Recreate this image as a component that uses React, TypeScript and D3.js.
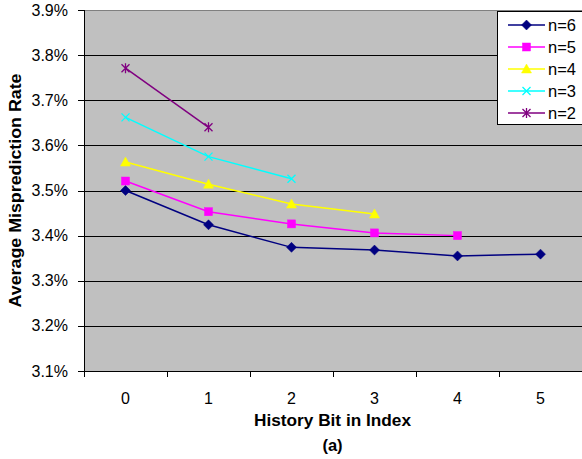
import React from "react";
import * as d3 from "d3";

const categories = [0, 1, 2, 3, 4, 5];
const yTicks = [3.1, 3.2, 3.3, 3.4, 3.5, 3.6, 3.7, 3.8, 3.9];
const n6 = [3.5, 3.424, 3.374, 3.368, 3.355, 3.359];
const n5 = [3.521, 3.453, 3.426, 3.406, 3.4];
const n4 = [3.563, 3.514, 3.47, 3.448];
const n3 = [3.662, 3.575, 3.526];
const n2 = [3.771, 3.64];
const seriesNames = ["n=6", "n=5", "n=4", "n=3", "n=2"];
const seriesValues = [n6, n5, n4, n3, n2];
const seriesColors = ["#000080", "#FF00FF", "#FFFF00", "#00FFFF", "#800080"];
const seriesMarkers = ["diamond", "square", "triangle", "x", "star"];

const W = 582, H = 459;
const L = 84, R = 582, T = 10, B = 371;

function Marker({ type, x, y, color }: { type: string; x: number; y: number; color: string }) {
  if (type === "diamond") {
    return <path d={`M${x},${y - 5}L${x + 5},${y}L${x},${y + 5}L${x - 5},${y}Z`} fill={color} stroke={color} strokeWidth={0.5} />;
  }
  if (type === "square") {
    return <rect x={x - 4} y={y - 4} width={8} height={8} fill={color} stroke={color} strokeWidth={0.5} />;
  }
  if (type === "triangle") {
    return <path d={`M${x},${y - 5}L${x + 5},${y + 4}L${x - 5},${y + 4}Z`} fill={color} stroke={color} strokeWidth={0.5} />;
  }
  if (type === "x") {
    return <path d={`M${x - 4},${y - 4}L${x + 4},${y + 4}M${x - 4},${y + 4}L${x + 4},${y - 4}`} stroke={color} strokeWidth={1.3} fill="none" />;
  }
  return <path d={`M${x - 4},${y - 4}L${x + 4},${y + 4}M${x - 4},${y + 4}L${x + 4},${y - 4}M${x},${y - 5}L${x},${y + 5}`} stroke={color} strokeWidth={1.3} fill="none" />;
}

export default function App() {
  const x = d3.scaleBand<number>().domain(categories).range([L, R]);
  const y = d3.scaleLinear().domain([3.1, 3.9]).range([B, T]);
  const cx = (i: number) => (x(i) as number) + x.bandwidth() / 2;
  const line = d3.line<number>().x((_, i) => cx(i)).y((d) => y(d));
  const font = "'Liberation Sans', Arial, sans-serif";
  const legX = 497.5, legY = 11.5, legStep = 22;

  return (
    <svg width={W} height={H} style={{ position: "absolute", left: 0, top: 0, background: "#fff" }} fontFamily={font}>
      <rect x={L} y={T} width={R - L} height={B - T} fill="#C0C0C0" />
      {yTicks.slice(1, -1).map((t) => (
        <line key={t} x1={L} x2={R} y1={Math.round(y(t)) + 0.5} y2={Math.round(y(t)) + 0.5} stroke="#000" strokeWidth={1} />
      ))}
      <line x1={L} x2={R} y1={T + 0.5} y2={T + 0.5} stroke="#808080" strokeWidth={1} />
      {/* axes */}
      <line x1={L + 0.5} x2={L + 0.5} y1={T} y2={B + 6} stroke="#000" strokeWidth={1} />
      <line x1={L - 6} x2={R} y1={B + 0.5} y2={B + 0.5} stroke="#000" strokeWidth={1} />
      {yTicks.map((t) => (
        <g key={t}>
          <line x1={L - 6} x2={L} y1={Math.round(y(t)) + 0.5} y2={Math.round(y(t)) + 0.5} stroke="#000" />
          <text x={L - 16} y={y(t)} dy="0.35em" textAnchor="end" fontSize={16}>{t.toFixed(1)}%</text>
        </g>
      ))}
      {categories.map((c, i) => (
        <g key={c}>
          {i > 0 && <line x1={Math.round(x(c) as number) + 0.5} x2={Math.round(x(c) as number) + 0.5} y1={B} y2={B + 6} stroke="#000" />}
          <text x={cx(i)} y={B + 27} dy="0.35em" textAnchor="middle" fontSize={16}>{c}</text>
        </g>
      ))}
      <text x={332.5} y={420} dy="0.35em" textAnchor="middle" fontSize={16.5} fontWeight="bold" textLength={157} lengthAdjust="spacingAndGlyphs">History Bit in Index</text>
      <text x={332.5} y={445} dy="0.35em" textAnchor="middle" fontSize={16.5} fontWeight="bold">(a)</text>
      <text transform={`translate(15,${(T + B) / 2}) rotate(-90)`} dy="0.35em" textAnchor="middle" fontSize={16.5} fontWeight="bold" textLength={234} lengthAdjust="spacingAndGlyphs">Average Misprediction Rate</text>
      {/* series */}
      {seriesValues.map((vals, si) => (
        <g key={si}>
          <path d={line(vals) as string} fill="none" stroke={seriesColors[si]} strokeWidth={1.5} />
          {vals.map((v, i) => (
            <Marker key={i} type={seriesMarkers[si]} x={cx(i)} y={y(v)} color={seriesColors[si]} />
          ))}
        </g>
      ))}
      {/* legend */}
      <rect x={legX} y={legY} width={W - legX + 2} height={113} fill="#fff" stroke="#000" strokeWidth={1} />
      {seriesNames.map((name, si) => {
        const ly = 25 + si * legStep;
        return (
          <g key={name}>
            <line x1={508} x2={545} y1={ly} y2={ly} stroke={seriesColors[si]} strokeWidth={1.5} />
            <Marker type={seriesMarkers[si]} x={526.5} y={ly} color={seriesColors[si]} />
            <text x={548} y={ly} dy="0.35em" fontSize={16.5}>{name}</text>
          </g>
        );
      })}
    </svg>
  );
}
